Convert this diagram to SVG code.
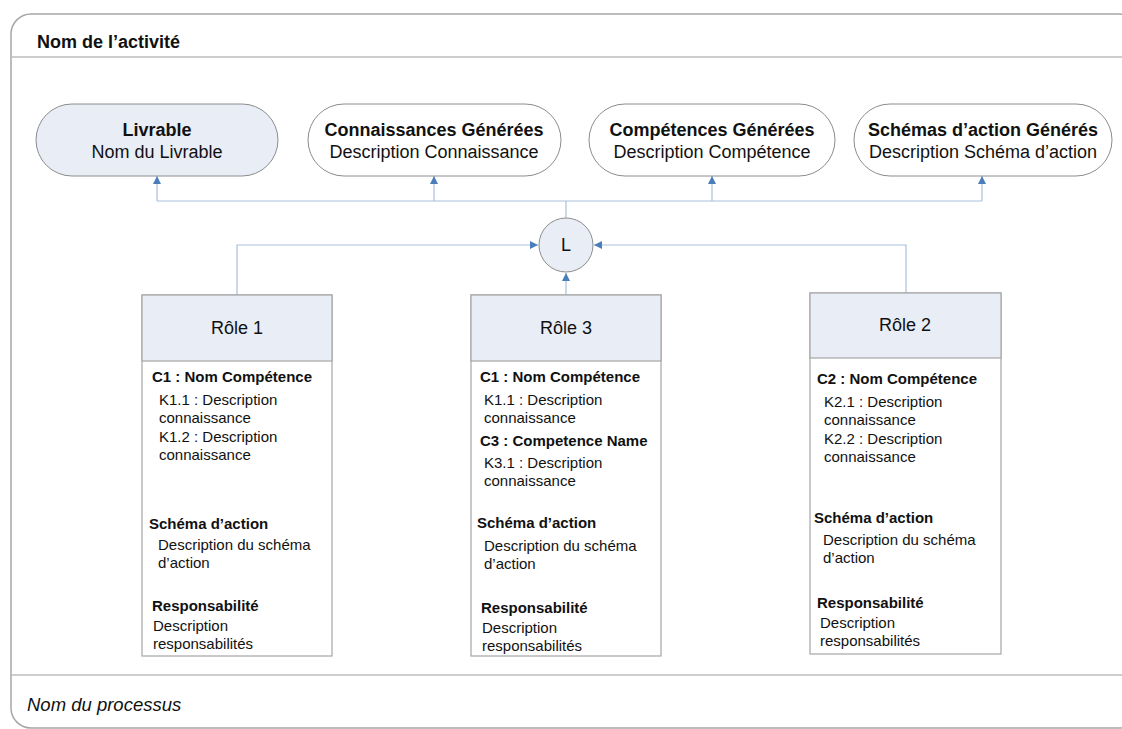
<svg xmlns="http://www.w3.org/2000/svg" width="1122" height="729" viewBox="0 0 1122 729">
<style>
text{font-family:"Liberation Sans",Arial,sans-serif;fill:#111}
.b{font-weight:bold}
.pill{fill:#fff;stroke:#8c8c8c;stroke-width:1}
.pillb{fill:#e8edf6;stroke:#8c8c8c;stroke-width:1}
.box{fill:#fff;stroke:#a6a6a6;stroke-width:1.2}
.hdr{fill:#e8edf6;stroke:#a6a6a6;stroke-width:1.2}
.con{fill:none;stroke:#a9bfdc;stroke-width:1.2}
.sep{stroke:#bdbdbd;stroke-width:1.5}
.pt{font-size:18px}
.rt{font-size:18px}
.bt{font-size:15px}
</style>
<defs>
<marker id="ah" viewBox="0 0 10 10" refX="10" refY="5" markerWidth="8" markerHeight="8" markerUnits="userSpaceOnUse" orient="auto">
<path d="M0,0 L10,5 L0,10 z" fill="#4a7ebb"/>
</marker>
</defs>
<g id="frame">
<rect x="11" y="14" width="1128" height="714" rx="20" ry="20" fill="#fff" stroke="#a6a6a6" stroke-width="1.5"/>
<line class="sep" x1="11" y1="57" x2="1122" y2="57"/>
<line class="sep" x1="11" y1="675" x2="1122" y2="675"/>
<text x="37" y="48" class="b" font-size="18">Nom de l’activité</text>
<text x="27" y="711" font-size="18.5" font-style="italic">Nom du processus</text>
</g>
<g id="connectors">
<polyline class="con" points="566,218 566,201"/>
<polyline class="con" points="157,201 982,201"/>
<line class="con" x1="157" y1="201" x2="157" y2="176" marker-end="url(#ah)"/>
<line class="con" x1="434" y1="201" x2="434" y2="176" marker-end="url(#ah)"/>
<line class="con" x1="712" y1="201" x2="712" y2="176" marker-end="url(#ah)"/>
<line class="con" x1="982" y1="201" x2="982" y2="176" marker-end="url(#ah)"/>
<polyline class="con" points="237,295 237,245 538,245" marker-end="url(#ah)"/>
<polyline class="con" points="906,293 906,245 594,245" marker-end="url(#ah)"/>
<line class="con" x1="566" y1="295" x2="566" y2="273" marker-end="url(#ah)"/>
</g>
<g id="livrable">
<rect class="pillb" x="36" y="104" width="242" height="72" rx="36" ry="36"/>
<text x="157" y="136" text-anchor="middle" class="pt b">Livrable</text>
<text x="157" y="158" text-anchor="middle" class="pt">Nom du Livrable</text>
</g>
<g id="connaissances">
<rect class="pill" x="308" y="104" width="253" height="72" rx="36" ry="36"/>
<text x="434" y="136" text-anchor="middle" class="pt b">Connaissances Générées</text>
<text x="434" y="158" text-anchor="middle" class="pt">Description Connaissance</text>
</g>
<g id="competences">
<rect class="pill" x="589" y="104" width="246" height="72" rx="36" ry="36"/>
<text x="712" y="136" text-anchor="middle" class="pt b">Compétences Générées</text>
<text x="712" y="158" text-anchor="middle" class="pt">Description Compétence</text>
</g>
<g id="schemas">
<rect class="pill" x="854" y="104" width="258" height="72" rx="36" ry="36"/>
<text x="983" y="136" text-anchor="middle" class="pt b">Schémas d’action Générés</text>
<text x="983" y="158" text-anchor="middle" class="pt">Description Schéma d’action</text>
</g>
<g id="L">
<circle cx="566" cy="245" r="27" fill="#e8edf6" stroke="#8c8c8c" stroke-width="1"/>
<text x="566" y="251" text-anchor="middle" font-size="18">L</text>
</g>
<g id="role1">
<rect class="box" x="142" y="295" width="190" height="361"/>
<rect class="hdr" x="142" y="295" width="190" height="66"/>
<text x="237" y="334" text-anchor="middle" class="rt">Rôle 1</text>
<text x="152" y="382" class="bt b">C1 : Nom Compétence</text>
<text x="159" y="405" class="bt">K1.1 : Description</text>
<text x="159" y="423" class="bt">connaissance</text>
<text x="159" y="442" class="bt">K1.2 : Description</text>
<text x="159" y="460" class="bt">connaissance</text>
<text x="149" y="529" class="bt b">Schéma d’action</text>
<text x="158" y="550" class="bt">Description du schéma</text>
<text x="158" y="568" class="bt">d’action</text>
<text x="152" y="611" class="bt b">Responsabilité</text>
<text x="153" y="631" class="bt">Description</text>
<text x="153" y="649" class="bt">responsabilités</text>
</g>
<g id="role3">
<rect class="box" x="471" y="295" width="190" height="361"/>
<rect class="hdr" x="471" y="295" width="190" height="66"/>
<text x="566" y="334" text-anchor="middle" class="rt">Rôle 3</text>
<text x="480" y="382" class="bt b">C1 : Nom Compétence</text>
<text x="484" y="405" class="bt">K1.1 : Description</text>
<text x="484" y="423" class="bt">connaissance</text>
<text x="480" y="446" class="bt b">C3 : Competence Name</text>
<text x="484" y="468" class="bt">K3.1 : Description</text>
<text x="484" y="486" class="bt">connaissance</text>
<text x="477" y="528" class="bt b">Schéma d’action</text>
<text x="484" y="551" class="bt">Description du schéma</text>
<text x="484" y="569" class="bt">d’action</text>
<text x="481" y="613" class="bt b">Responsabilité</text>
<text x="482" y="633" class="bt">Description</text>
<text x="482" y="651" class="bt">responsabilités</text>
</g>
<g id="role2">
<rect class="box" x="810" y="293" width="191" height="361"/>
<rect class="hdr" x="810" y="293" width="191" height="65"/>
<text x="905" y="331" text-anchor="middle" class="rt">Rôle 2</text>
<text x="817" y="384" class="bt b">C2 : Nom Compétence</text>
<text x="824" y="407" class="bt">K2.1 : Description</text>
<text x="824" y="425" class="bt">connaissance</text>
<text x="824" y="444" class="bt">K2.2 : Description</text>
<text x="824" y="462" class="bt">connaissance</text>
<text x="814" y="523" class="bt b">Schéma d’action</text>
<text x="823" y="545" class="bt">Description du schéma</text>
<text x="823" y="563" class="bt">d’action</text>
<text x="817" y="608" class="bt b">Responsabilité</text>
<text x="820" y="628" class="bt">Description</text>
<text x="820" y="646" class="bt">responsabilités</text>
</g>
</svg>
